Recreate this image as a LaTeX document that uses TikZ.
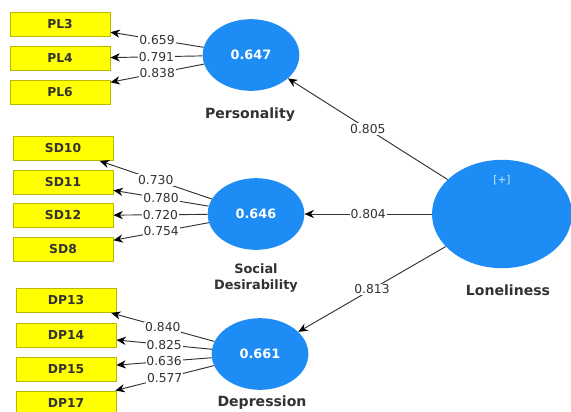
\documentclass[tikz,border=0pt]{standalone}
\usepackage{fontspec}
\setmainfont{DejaVu Sans}
\usetikzlibrary{shapes.geometric, arrows.meta}

\definecolor{azul}{RGB}{30,140,245}
\definecolor{amarillo}{RGB}{255,255,0}
\definecolor{borde}{RGB}{185,185,0}
\definecolor{gris}{RGB}{50,50,50}

\tikzset{
  indicador/.style={draw=borde, fill=amarillo, line width=0.8pt, minimum width=3cm, minimum height=0.72cm, inner sep=0pt, font=\fontsize{10.5}{12}\selectfont\bfseries, text=gris},
  constructo/.style={ellipse, fill=azul, minimum width=2.9cm, minimum height=2.15cm, inner sep=0pt, font=\fontsize{11}{13}\selectfont\bfseries, text=white},
  nombre/.style={font=\fontsize{12}{14}\selectfont\bfseries, text=gris, align=center},
  carga/.style={fill=white, inner sep=0.8pt, font=\fontsize{10.5}{12}\selectfont, text=gris},
  flecha/.style={draw=gris, line width=0.8pt, -{Stealth[length=8pt, width=7pt, black]}}
}

\begin{document}
\begin{tikzpicture}[x=0.03cm, y=-0.03cm]
        % Fondo
        \fill[white] (0,0) rectangle (571,411);
        \useasboundingbox (0,0) rectangle (571,411);

        % Constructos
        \node[constructo] (pers) at (251,55) {0.647};
        \node[constructo] (soc) at (256,214) {0.646};
        \node[constructo] (dep) at (260,354) {0.661};
        \node[constructo, minimum width=4.2cm, minimum height=3.25cm] (lon) at (502,214) {};
        \node[font=\fontsize{9}{10}\selectfont, text=white!80!azul] (mas) at (502,180) {[+]};

        % Nombres de los constructos
        \node[nombre] (npers) at (250,115) {Personality};
        \node[nombre, font=\fontsize{11}{14}\selectfont\bfseries] (nsoc) at (256,278) {Social\\Desirability};
        \node[nombre] (ndep) at (262,403) {Depression};
        \node[nombre] (nlon) at (508,290) {Loneliness};

        % Indicadores
        \node[indicador] (pl3) at (60,24) {PL3};
        \node[indicador] (pl4) at (60,58.5) {PL4};
        \node[indicador] (pl6) at (60,92) {PL6};
        \node[indicador] (sd10) at (63,148.5) {SD10};
        \node[indicador] (sd11) at (63,182) {SD11};
        \node[indicador] (sd12) at (63,215.5) {SD12};
        \node[indicador] (sd8) at (63,249.5) {SD8};
        \node[indicador] (dp13) at (66,300.5) {DP13};
        \node[indicador] (dp14) at (66,335) {DP14};
        \node[indicador] (dp15) at (66,369) {DP15};
        \node[indicador] (dp17) at (66,403) {DP17};

        % Cargas externas
        \draw[flecha] (pers) -- node[carga] {0.659} (pl3);
        \draw[flecha] (pers) -- node[carga] {0.791} (pl4);
        \draw[flecha] (pers) -- node[carga] {0.838} (pl6);
        \draw[flecha] (soc) -- node[carga] {0.730} (sd10);
        \draw[flecha] (soc) -- node[carga] {0.780} (sd11);
        \draw[flecha] (soc) -- node[carga] {0.720} (sd12);
        \draw[flecha] (soc) -- node[carga] {0.754} (sd8);
        \draw[flecha] (dep) -- node[carga] {0.840} (dp13);
        \draw[flecha] (dep) -- node[carga] {0.825} (dp14);
        \draw[flecha] (dep) -- node[carga] {0.636} (dp15);
        \draw[flecha] (dep) -- node[carga] {0.577} (dp17);

        % Relaciones estructurales
        \draw[flecha] (lon) -- node[carga] {0.805} (pers);
        \draw[flecha] (lon) -- node[carga] {0.804} (soc);
        \draw[flecha] (lon) -- node[carga] {0.813} (dep);
    \end{tikzpicture}
\end{document}
